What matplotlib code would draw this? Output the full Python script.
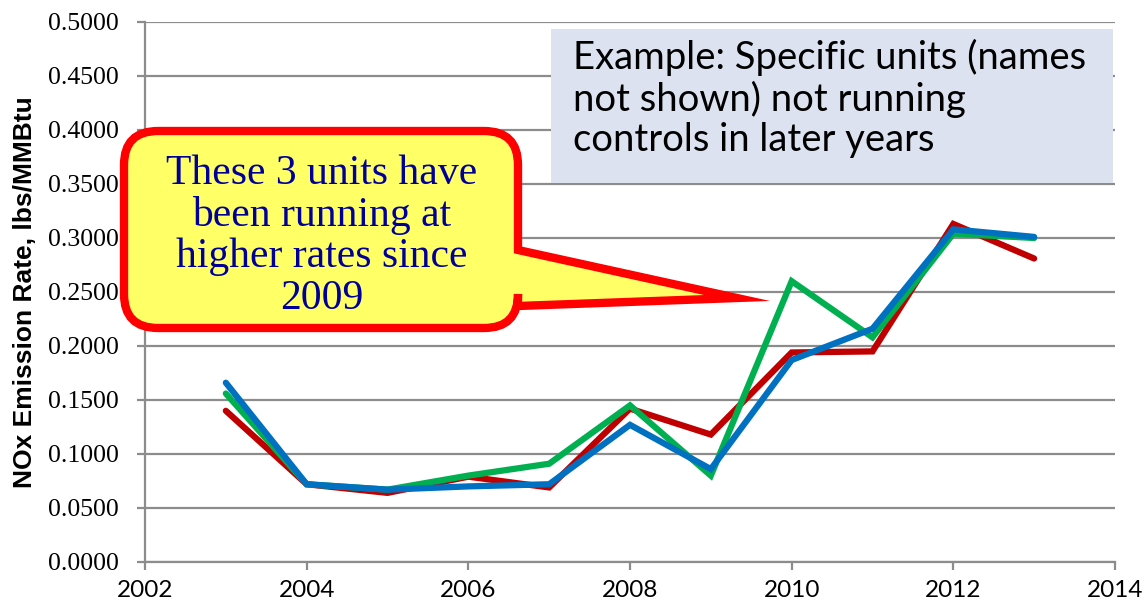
import numpy as np
import matplotlib.pyplot as plt
import matplotlib.patches as mpatches
from matplotlib.path import Path

### data
years = [2003, 2004, 2005, 2006, 2007, 2008, 2009, 2010, 2011, 2012, 2013]
unit_red = [0.140, 0.072, 0.064, 0.079, 0.069, 0.142, 0.118, 0.194, 0.195, 0.313, 0.281]
unit_green = [0.156, 0.072, 0.067, 0.080, 0.091, 0.145, 0.080, 0.260, 0.208, 0.304, 0.300]
unit_blue = [0.166, 0.072, 0.067, 0.070, 0.072, 0.127, 0.086, 0.187, 0.216, 0.308, 0.301]

x_ticks = [2002, 2004, 2006, 2008, 2010, 2012, 2014]
y_ticks = [0.0, 0.05, 0.10, 0.15, 0.20, 0.25, 0.30, 0.35, 0.40, 0.45, 0.50]

callout_text = "These 3 units have\nbeen running at\nhigher rates since\n2009"
note_text = "Example: Specific units (names\nnot shown) not running\ncontrols in later years"

W, H = 1147, 607
fig = plt.figure(figsize=(W / 100, H / 100), dpi=100)
ax = fig.add_axes([145 / W, 45 / H, 970 / W, 540 / H])

grid_c = '#8c8c8c'
for vals, c in [(unit_red, '#C00000'), (unit_green, '#00B050'), (unit_blue, '#0070C0')]:
    ax.plot(years, vals, color=c, lw=4.5, solid_capstyle='round', solid_joinstyle='miter', zorder=3)

ax.set_xlim(2002, 2014)
ax.set_ylim(0, 0.5)
ax.set_xticks(x_ticks)
ax.set_yticks(y_ticks)
ax.set_yticklabels(['%.4f' % v for v in y_ticks], family='Liberation Serif', fontsize=18.5)
ax.set_xticklabels([str(v) for v in x_ticks], family='Lato', fontsize=17.5)
ax.grid(axis='y', color=grid_c, lw=1.6)
ax.set_axisbelow(True)
for s in ['top', 'right']:
    ax.spines[s].set_visible(False)
for s in ['left', 'bottom']:
    ax.spines[s].set_color(grid_c)
    ax.spines[s].set_linewidth(1.6)
ax.tick_params(axis='y', length=6, width=1.6, color=grid_c, pad=13)
ax.tick_params(axis='x', length=6, width=1.6, color=grid_c, pad=7)
ax.set_ylabel('NOx Emission Rate, lbs/MMBtu', family='Liberation Sans', fontweight='bold',
              fontsize=19)
ax.yaxis.set_label_coords(-108 / 970, 0.5)

# helper: image pixel (from top-left) -> inches
def pin(x, y):
    return (x / 100, (H - y) / 100)

# callout with tail
L, R, T, B, r = 124, 518, 131, 328, 34
pts = [(L + r, T), (R - r, T), (R, T), (R, T + r), (R, 250), (737, 298), (R, 306),
       (R, B - r), (R, B), (R - r, B), (L + r, B), (L, B), (L, B - r), (L, T + r),
       (L, T), (L + r, T), (L + r, T)]
codes = [Path.MOVETO, Path.LINETO, Path.CURVE3, Path.CURVE3, Path.LINETO, Path.LINETO,
         Path.LINETO, Path.LINETO, Path.CURVE3, Path.CURVE3, Path.LINETO, Path.CURVE3,
         Path.CURVE3, Path.LINETO, Path.CURVE3, Path.CURVE3, Path.CLOSEPOLY]
callout = mpatches.PathPatch(Path([pin(*p) for p in pts], codes), facecolor='#FFFF66',
                             edgecolor='#FF0000', lw=6, joinstyle='miter',
                             transform=fig.dpi_scale_trans, zorder=5)
fig.add_artist(callout)
fig.text(322 / W, 1 - 236 / H, callout_text, ha='center', va='center', color='#000099',
         family='Liberation Serif', fontsize=30, linespacing=1.1, zorder=6)

# note box
note_box = mpatches.Rectangle(pin(551, 183), 562 / 100, 154 / 100, facecolor='#DCE2EF',
                              edgecolor='none', transform=fig.dpi_scale_trans, zorder=5)
fig.add_artist(note_box)
fig.text(573 / W, 1 - 39 / H, note_text, ha='left', va='top', color='black',
         family='Lato', fontsize=27.5, linespacing=1.14, zorder=6)

fig.savefig('out.png', dpi=100)
